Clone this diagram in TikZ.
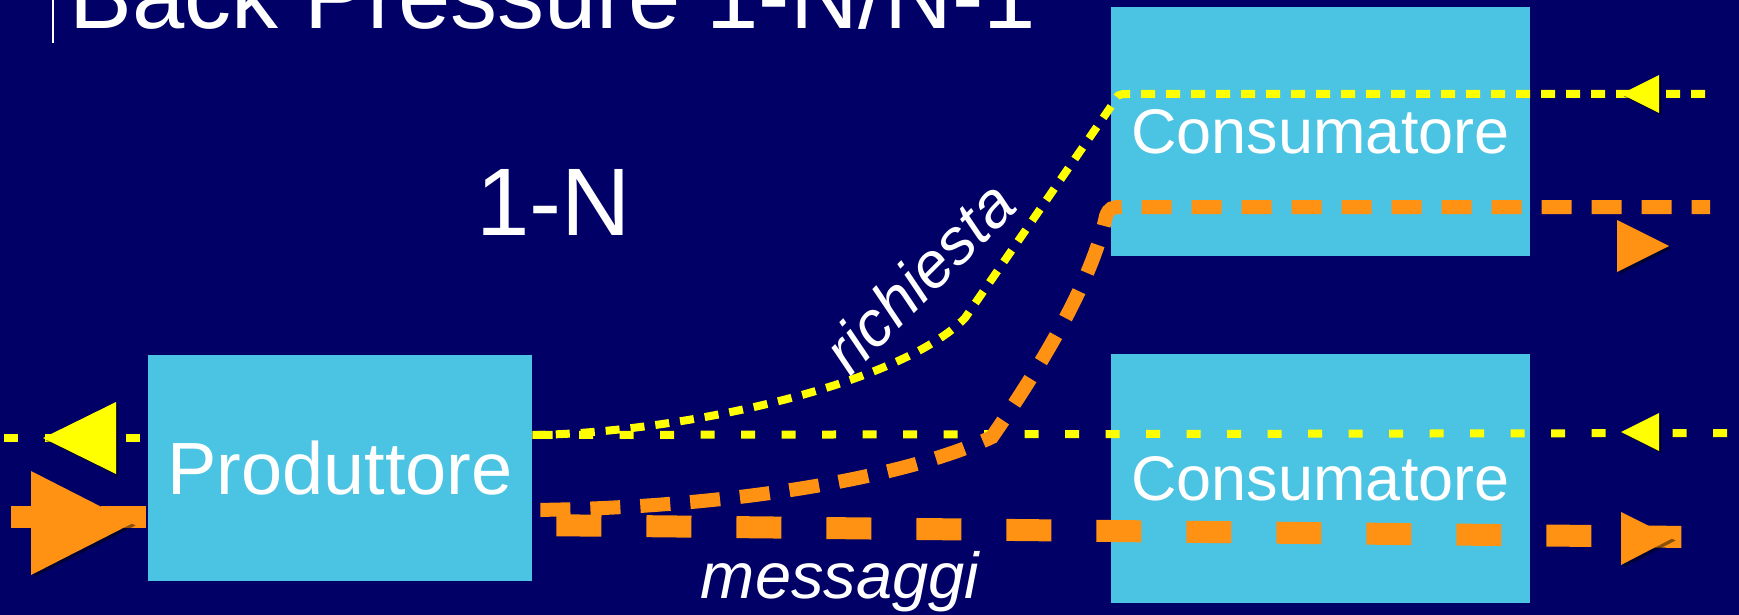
\documentclass[tikz,border=0pt]{standalone}
\usepackage{fontspec}
\setmainfont{Liberation Sans}
\usetikzlibrary{calc}
\definecolor{bgc}{RGB}{0,0,102}
\definecolor{boxc}{RGB}{75,195,227}
\definecolor{yel}{RGB}{255,255,0}
\definecolor{org}{RGB}{255,146,18}
% triangle head: colour, tip, base top, base bottom
\newcommand\arrhd[4]{%
  \fill[black,opacity=0.45,shift={(2.5,2.5)}] #2 -- #3 -- #4 -- cycle;
  \fill[#1] #2 -- #3 -- #4 -- cycle;}
\begin{document}
\begin{tikzpicture}[x=0.5pt,y=-0.5pt,
  box/.style={fill=boxc,draw=none,inner sep=0pt,text=white},
  lbl/.style={text=white,inner sep=0pt},
  ydash/.style={draw=yel,line width=4pt,dash pattern=on 7pt off 5.5pt},
  ydot/.style={draw=yel,line width=4pt,dash pattern=on 7pt off 13.25pt},
  othin/.style={draw=org,line width=7pt,dash pattern=on 15pt off 10pt},
  othick/.style={draw=org,line width=11pt,dash pattern=on 22.5pt off 22.5pt}]
\fill[bgc] (0,0) rectangle (1739,615);
\useasboundingbox (0,0) rectangle (1739,615);

% title
\draw[white,line width=1pt] (53,0) -- (53,43);
\node[lbl,anchor=base west,font=\fontsize{47}{50}\selectfont] (title) at (69,29) {Back Pressure 1-N/N-1};
\node[lbl,anchor=base west,font=\fontsize{48}{52}\selectfont] (oneN) at (476,235) {1-N};

% boxes
\node[box,minimum width=192pt,minimum height=113pt,font=\fontsize{37}{40}\selectfont] (prod) at (340,468) {Produttore};
\node[box,minimum width=209.5pt,minimum height=124.5pt,font=\fontsize{31.5}{34}\selectfont] (cons1) at (1320.5,131.5) {Consumatore};
\node[box,minimum width=209.5pt,minimum height=124.5pt,font=\fontsize{31.5}{34}\selectfont] (cons2) at (1320.5,478.5) {Consumatore};

% free ends
\coordinate (ytop) at (1705,94);
\coordinate (ybot) at (1727,433);
\coordinate (yleft) at (4,438);
\coordinate (otop) at (1710,207);
\coordinate (obot) at (1691,537);
\coordinate (oleft) at (11,517);

% richiesta (yellow)
\draw[ydash] (ytop) -- (1128,94) .. controls (1118,94) .. (1112,105) -- (965,318)
  .. controls (900,385) and (680,433) .. ($(prod.east)+(0,-33)$);
\draw[ydot] (ybot) -- ($(prod.east)+(0,-33)$);
\draw[ydot] (yleft) -- ($(prod.west)+(0,-30)$);

% messaggi (orange)
\draw[othin,dash phase=21pt] ($(prod.east)+(0,42)$) .. controls (720,508) and (900,480) .. (992,437)
  .. controls (1045,360) and (1092,280) .. (1106,216) .. controls (1109,208) and (1112,207) .. (1122,207)
  -- (otop);
\draw[othick,dash phase=33pt] ($(prod.east)+(0,57)$) -- (obot);
\draw[othick] (oleft) -- ($(prod.west)+(0,49)$);

% arrow heads
\arrhd{yel}{(1621,94)}{(1659,75)}{(1659,113)}
\arrhd{yel}{(1621,432)}{(1659,413)}{(1659,451)}
\arrhd{yel}{(43,438)}{(116,402)}{(116,474)}
\arrhd{org}{(1669,246)}{(1617,220)}{(1617,272)}
\arrhd{org}{(1673,538)}{(1621,512)}{(1621,565)}
\arrhd{org}{(133,523)}{(31,471)}{(31,575)}

% labels
\node[lbl,anchor=base,rotate=45,font=\itshape\fontsize{32}{35}\selectfont] (req) at (935,293) {richiesta};
\node[lbl,anchor=base,font=\itshape\fontsize{32.5}{35}\selectfont] (msg) at (840,598) {messaggi};
\end{tikzpicture}
\end{document}
